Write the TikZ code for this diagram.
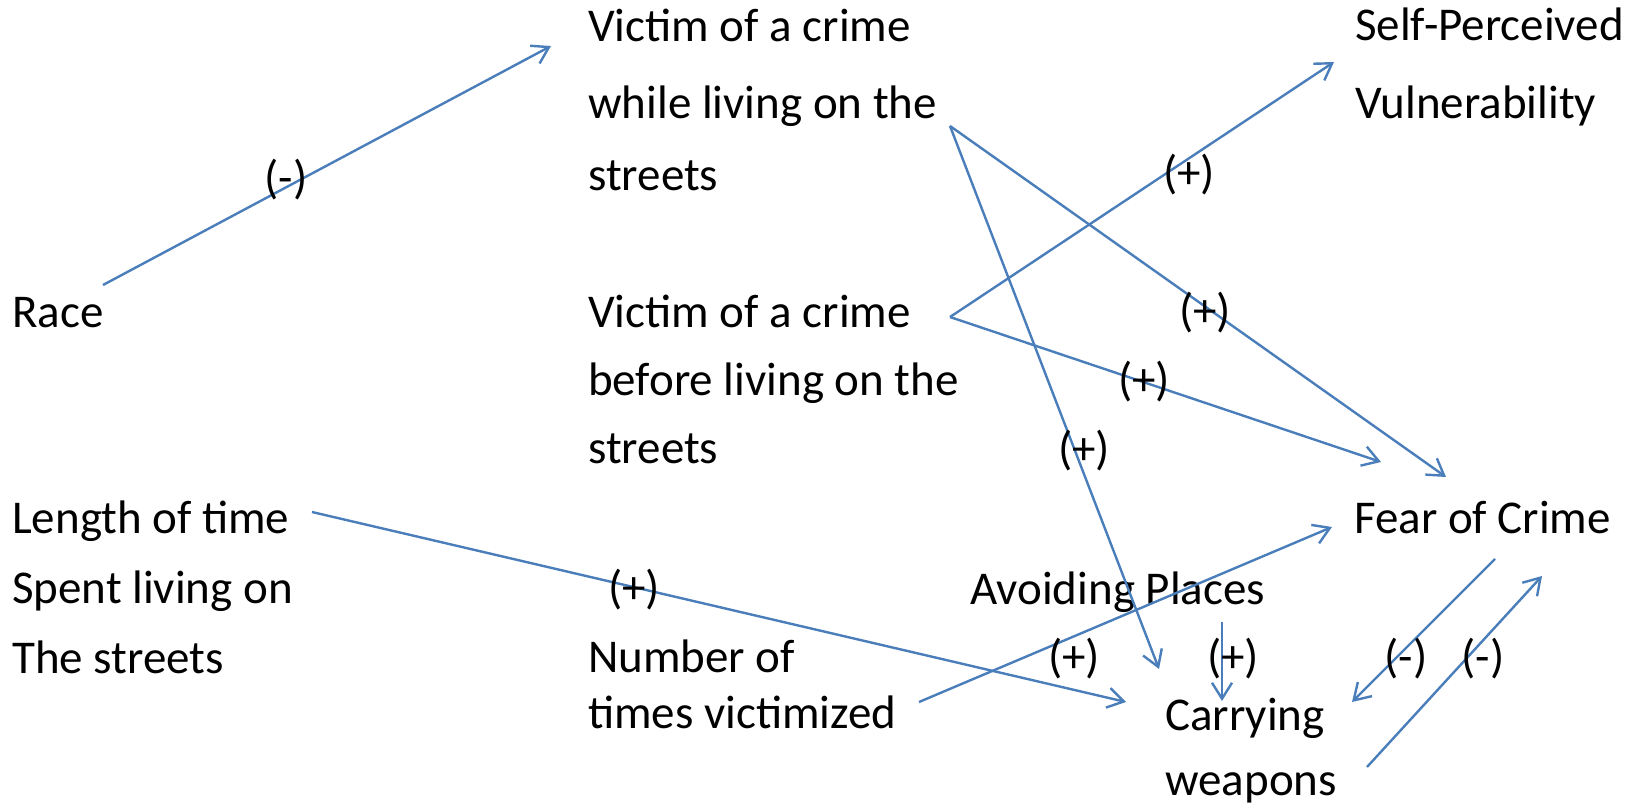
\documentclass[tikz,border=0pt]{standalone}
\usepackage{fontspec}
\setmainfont{Carlito}
\usetikzlibrary{arrows.meta}
\definecolor{linkblue}{RGB}{74,126,187}
\tikzset{
  lbl/.style={anchor=base west, inner sep=0pt, align=left, font=\fontsize{47}{#1}\selectfont},
  lbl/.default=70,
  sign/.style={inner sep=0pt, font=\fontsize{47}{56}\selectfont},
  link/.style={draw=linkblue, line width=2.4pt, -{Straight Barb[length=16pt,width=20pt]}}
}
\begin{document}
\begin{tikzpicture}[x=1pt,y=-1pt]
    \useasboundingbox (0,0) rectangle (1645,808);

    % Factors (placed at the baseline of their last line)
    \node[lbl] (race) at (12,327) {Race};
    \node[lbl=72] (vwhile) at (588,190) {Victim of a crime\\[5pt]while living on the\\streets};
    \node[lbl=78] (selfvul) at (1355,118) {Self-Perceived\\Vulnerability};
    \node[lbl=68] (vbefore) at (588,463) {Victim of a crime\\before living on the\\streets};
    \node[lbl=70] (length) at (12,673) {Length of time\\Spent living on\\The streets};
    \node[lbl] (fear) at (1354,533) {Fear of Crime};
    \node[lbl] (avoid) at (970,604) {Avoiding Places};
    \node[lbl=56] (number) at (588,728) {Number of\\times victimized};
    \node[lbl=65] (carry) at (1165,795) {Carrying\\weapons};

    % Arrow ends
    \coordinate (race-o) at (103,285);
    \coordinate (vwhile-o) at (950,126);
    \coordinate (vbefore-o) at (950,317);
    \coordinate (length-o) at (312,512);
    \coordinate (number-o) at (919,702);
    \coordinate (avoid-o) at (1222,622);
    \coordinate (fear-o) at (1495,559);
    \coordinate (carry-o) at (1367,767);
    \coordinate (vwhile-i) at (551,46);
    \coordinate (selfvul-i) at (1334,62);
    \coordinate (fear-i1) at (1446,477);
    \coordinate (fear-i2) at (1381,462);
    \coordinate (fear-i3) at (1332,527);
    \coordinate (fear-i4) at (1542,576);
    \coordinate (carry-i1) at (1159,669);
    \coordinate (carry-i2) at (1126,702);
    \coordinate (carry-i3) at (1222,701);
    \coordinate (carry-i4) at (1352,702);

    % Arrows
    \draw[link] (race-o) -- (vwhile-i);
    \draw[link] (vbefore-o) -- (selfvul-i);
    \draw[link] (vwhile-o) -- (fear-i1);
    \draw[link] (vwhile-o) -- (carry-i1);
    \draw[link] (vbefore-o) -- (fear-i2);
    \draw[link] (length-o) -- (carry-i2);
    \draw[link] (number-o) -- (fear-i3);
    \draw[link] (avoid-o) -- (carry-i3);
    \draw[link] (fear-o) -- (carry-i4);
    \draw[link] (carry-o) -- (fear-i4);

    % Signs
    \foreach \n/\x/\y/\s in {race/286/180/-, selfvul/1189/175/+, wfear/1205/313/+,
        bfear/1144/382/+, wcarry/1084/451/+, length/634/590/+, number/1074/659/+,
        avoid/1233/659/+, fearc/1406/659/-, carryf/1483/659/-}
        \node[sign] (sg-\n) at (\x,\y) {(\s)};
\end{tikzpicture}
\end{document}
